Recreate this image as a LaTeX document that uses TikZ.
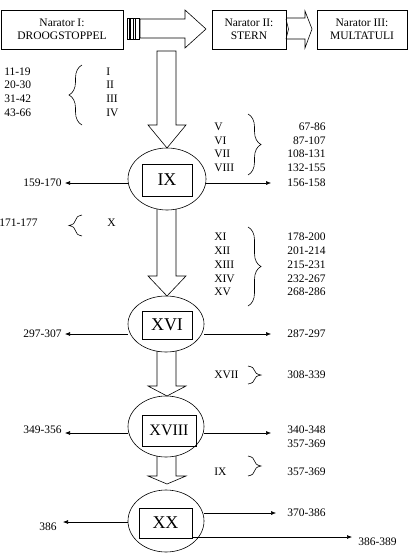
\documentclass[tikz,border=0pt]{standalone}
\usepackage{fontspec}
\setmainfont{Liberation Serif}
\usetikzlibrary{shapes.geometric,arrows.meta,decorations.pathreplacing}

\begin{document}
\begin{tikzpicture}[x=1pt, y=-1pt, line width=0.6pt,
txt/.style={inner sep=0pt, font=\fontsize{11.5}{13}\selectfont},
narbox/.style={draw, align=center, inner sep=0pt, minimum height=39pt, font=\fontsize{11.5}{13}\selectfont},
oval/.style={draw, ellipse, inner sep=0pt, minimum width=76pt},
inbox/.style={draw, inner sep=0pt, font=\fontsize{18}{18}\selectfont},
thinarrow/.style={-{Latex[length=5pt,width=4pt]}},
rbrace/.style={decorate, decoration={brace, amplitude=13pt}},
blk/.style={draw, line join=miter}]
\useasboundingbox (0,0) rectangle (410,557);

% narators
\node[narbox, minimum width=122pt] (nar1) at (62,29.5) {Narator I:\\DROOGSTOPPEL};
\node[narbox, minimum width=74pt] (nar2) at (249,29.5) {Narator II:\\STERN};
\node[narbox, minimum width=90pt] (nar3) at (362,29.5) {Narator III:\\MULTATULI};
\draw[blk, line width=0.4pt] (127,18) rectangle (129,39) (130.5,18) rectangle (139,39)
  (133.5,18) -- (133.5,39) (135.5,18) -- (135.5,39);
\draw[blk] (140,19) -- (185,19) -- (185,10) -- (206,29) -- (185,48) -- (185,38) -- (140,38) -- cycle;
\draw[blk] (286,18) -- (305,18) -- (305,11) -- (312,29) -- (305,48) -- (305,39) -- (286,39);
\draw (286,19) -- (288.5,29) -- (286,39);

% chapters
\node[oval, minimum width=78pt, minimum height=62pt] (ix) at (167,179) {};
\node[inbox, minimum width=50pt, minimum height=32pt] (ixbox) at (167,180) {IX};
\node[oval, minimum height=56pt] (xvi) at (166,324) {};
\node[inbox, minimum width=50pt, minimum height=28pt] (xvibox) at (167,325) {XVI};
\node[oval, minimum height=61pt] (xviii) at (166,426.5) {};
\node[inbox, minimum width=54pt, minimum height=31pt, font=\fontsize{16}{16}\selectfont] (xviiibox) at (169,430.5) {XVIII};
\node[oval, minimum height=62pt] (xx) at (166,521) {};
\node[inbox, minimum width=53pt, minimum height=30pt] (xxbox) at (165.5,523) {XX};

% down arrows
\draw[blk] (157,51) -- (157,125) -- (148,125) -- (167,148) -- (186,125) -- (176,125) -- (176,51) -- cycle;
\draw[blk] (157,209) -- (157,276) -- (148,276) -- (167,296) -- (186,276) -- (176,276) -- (176,209);
\draw[blk] (157,351) -- (157,386) -- (148,386) -- (167,396) -- (186,386) -- (176,386) -- (176,351);
\draw[blk] (157,456) -- (157,476) -- (148,476) -- (167,484) -- (186,476) -- (176,476) -- (176,456);

% left side
\node[txt, anchor=west] (p11) at (4,72) {11-19};
\node[txt, anchor=west] (p20) at (4,85) {20-30};
\node[txt, anchor=west] (p31) at (4,99) {31-42};
\node[txt, anchor=west] (p43) at (4,113) {43-66};
\node[txt, anchor=west] (ci) at (106,72) {I};
\node[txt, anchor=west] (cii) at (106,85) {II};
\node[txt, anchor=west] (ciii) at (106,99) {III};
\node[txt, anchor=west] (civ) at (106,113) {IV};
\draw[rbrace] (82,125) -- (82,65);
\node[txt, anchor=east] (p159) at (62,183) {159-170};
\node[txt, anchor=east] (p171) at (38,223) {171-177};
\node[txt, anchor=west] (cx) at (107,223) {X};
\draw[rbrace] (82,236) -- (82,215);
\node[txt, anchor=east] (p297) at (62,334) {297-307};
\node[txt, anchor=east] (p349) at (62,430) {349-356};
\node[txt, anchor=east] (p386) at (57,527) {386};

% right side
\node[txt, anchor=west] (cv) at (214,127) {V};
\node[txt, anchor=west] (cvi) at (214,141) {VI};
\node[txt, anchor=west] (cvii) at (214,154) {VII};
\node[txt, anchor=west] (cviii) at (214,168) {VIII};
\node[txt, anchor=east] (p67) at (326,127) {67-86};
\node[txt, anchor=east] (p87) at (326,141) {87-107};
\node[txt, anchor=east] (p108) at (326,154) {108-131};
\node[txt, anchor=east] (p132) at (326,168) {132-155};
\node[txt, anchor=east] (p156) at (326,183) {156-158};
\draw[rbrace] (248,114) -- (248,175);
\node[txt, anchor=west] (cxi) at (214,237) {XI};
\node[txt, anchor=west] (cxii) at (214,251) {XII};
\node[txt, anchor=west] (cxiii) at (214,265) {XIII};
\node[txt, anchor=west] (cxiv) at (214,279) {XIV};
\node[txt, anchor=west] (cxv) at (214,292) {XV};
\node[txt, anchor=east] (p178) at (326,237) {178-200};
\node[txt, anchor=east] (p201) at (326,251) {201-214};
\node[txt, anchor=east] (p215) at (326,265) {215-231};
\node[txt, anchor=east] (p232) at (326,279) {232-267};
\node[txt, anchor=east] (p268) at (326,292) {268-286};
\draw[rbrace] (248,227) -- (248,306);
\node[txt, anchor=east] (p287) at (326,334) {287-297};
\node[txt, anchor=west] (cxvii) at (214,375) {XVII};
\node[txt, anchor=east] (p308) at (326,375) {308-339};
\draw[rbrace] (248,366) -- (248,384);
\node[txt, anchor=east] (p340) at (326,430) {340-348};
\node[txt, anchor=east] (p357) at (326,444) {357-369};
\node[txt, anchor=west] (cix) at (214,472) {IX};
\node[txt, anchor=east] (p357b) at (326,472) {357-369};
\draw[rbrace] (248,456) -- (248,476);
\node[txt, anchor=east] (p370) at (326,513) {370-386};
\node[txt, anchor=west] (p389) at (358,542) {386-389};

% side arrows
\draw[thinarrow, shorten >=3pt] (ix.west |- p159) -- (p159.east);
\draw[thinarrow, shorten >=16pt] (ix.east |- p156) -- (p156.west);
\draw[thinarrow, shorten >=3pt] (xvi.west |- p297) -- (p297.east);
\draw[thinarrow, shorten >=16pt] (xvi.east |- p287) -- (p287.west);
\draw[thinarrow] (xviii.west |- 0,433) -- ([xshift=3pt]p349.east |- 0,433);
\draw[thinarrow] (xviii.east |- 0,433) -- ([xshift=-16pt]p340.west |- 0,433);
\draw[thinarrow] (xx.west |- 0,522) -- ([xshift=6pt]p386.east |- 0,522);
\draw[thinarrow, shorten >=11pt] (xx.east |- p370) -- (p370.west);
\draw[thinarrow] (xx.south east |- 0,537) -- ([xshift=-6pt]p389.west |- 0,537);
\end{tikzpicture}
\end{document}
